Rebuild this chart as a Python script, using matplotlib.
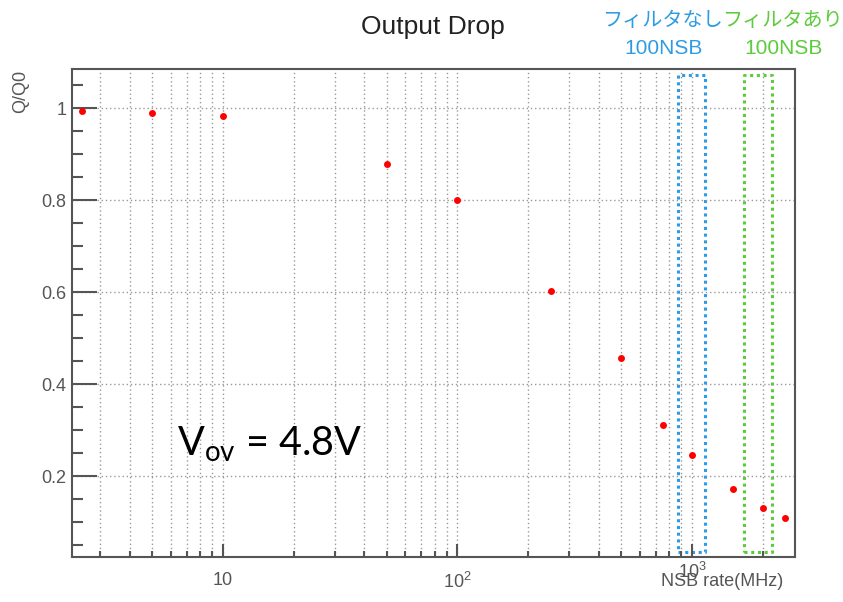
import numpy as np
import matplotlib
matplotlib.use('Agg')
import matplotlib.pyplot as plt
from matplotlib.patches import Rectangle
from matplotlib.ticker import FixedLocator, MultipleLocator, LogLocator, NullFormatter

#%% Data
nsb_rate = [2.5, 5, 10, 50, 100, 250, 500, 750, 1000, 1500, 2000, 2500]
q_ratio  = [0.994, 0.990, 0.983, 0.878, 0.800, 0.602, 0.457, 0.311, 0.246, 0.172, 0.130, 0.109]

x_ticks       = [10, 100, 1000]
x_tick_labels = ['10', r'$10^2$', '']   # 10^3 is drawn a bit higher, as in the reference
y_ticks       = [0.2, 0.4, 0.6, 0.8, 1.0]
y_tick_labels = ['0.2', '0.4', '0.6', '0.8', '1']

# dotted boxes: (x from, x to, y from, y to)
box_nofilter = (871, 1135, 0.035, 1.072)
box_filter   = (1667, 2193, 0.035, 1.072)

#%% Style
plt.rcParams['font.family'] = ['Liberation Sans', 'DejaVu Sans']
plt.rcParams['mathtext.fontset'] = 'custom'
plt.rcParams['mathtext.rm'] = 'Liberation Sans'
plt.rcParams['mathtext.sf'] = 'Lato'

axis_grey = '#555555'
blue  = '#2f9be3'
green = '#5ccb3c'

fig = plt.figure(figsize=(8.43, 6.02), dpi=100)
ax = fig.add_axes([0.0854, 0.0748, 0.943 - 0.0854, 0.8854 - 0.0748])

ax.plot(nsb_rate, q_ratio, 'o', color='red', markersize=5, markeredgewidth=0)

ax.set_xscale('log')
ax.set_xlim(2.27, 2750)
ax.set_ylim(0.024, 1.085)

ax.xaxis.set_major_locator(FixedLocator(x_ticks))
ax.set_xticklabels(x_tick_labels)
ax.xaxis.set_minor_locator(LogLocator(base=10, subs=np.arange(2, 10)))
ax.xaxis.set_minor_formatter(NullFormatter())
ax.set_yticks(y_ticks)
ax.set_yticklabels(y_tick_labels)
ax.yaxis.set_minor_locator(MultipleLocator(0.05))

ax.grid(True, which='major', axis='both', linestyle=(0, (1, 2)), color='#999999', linewidth=1)
ax.grid(True, which='minor', axis='x', linestyle=(0, (1, 2)), color='#999999', linewidth=1)

ax.tick_params(axis='both', which='both', direction='in', color=axis_grey,
               labelcolor=axis_grey, labelsize=13, width=1.5)
ax.tick_params(axis='y', which='major', length=18, pad=4)
ax.tick_params(axis='y', which='minor', length=8)
ax.tick_params(axis='x', which='major', length=9.5, pad=11)
ax.tick_params(axis='x', which='minor', length=4.5)
ax.tick_params(top=False, right=False)

for side in ax.spines.values():
    side.set_color(axis_grey)
    side.set_linewidth(1.5)

# 10^3 label, raised like in the original
ax.text(x_ticks[2], -0.043, r'$10^3$', transform=ax.get_xaxis_transform(),
        ha='center', va='baseline', fontsize=13, color=axis_grey)

#### Dotted boxes
for (x0, x1, y0, y1), c in [(box_nofilter, blue), (box_filter, green)]:
    ax.add_patch(Rectangle((x0, y0), x1 - x0, y1 - y0, fill=False, edgecolor=c,
                           linestyle=(0, (1, 1.2)), linewidth=2.2, joinstyle='round'))

#### Texts
fig.text(0.5136, 0.955, 'Output Drop', ha='center', va='center', fontsize=19, color='#222222')
fig.text(21 / 843, 1 - 70 / 602, 'Q/Q0', rotation=90, ha='center', va='top', fontsize=13, color=axis_grey)
fig.text(783 / 843, 1 - 582 / 602, 'NSB rate(MHz)', ha='right', va='center', fontsize=13, color=axis_grey)

jp = ['Noto Sans CJK JP', 'DejaVu Sans']
fig.text(662 / 843, 1 - 20 / 602, 'フィルタなし', ha='center', va='center', fontsize=14.5, color=blue, family=jp)
fig.text(782 / 843, 1 - 20 / 602, 'フィルタあり', ha='center', va='center', fontsize=14.5, color=green, family=jp)
fig.text(664 / 843, 1 - 48 / 602, '100NSB', ha='center', va='center', fontsize=15, color=blue, family=['Liberation Sans'])
fig.text(784 / 843, 1 - 48 / 602, '100NSB', ha='center', va='center', fontsize=15, color=green, family=['Liberation Sans'])

fig.text(177 / 843, 1 - 455 / 602, r'$\mathsf{V}_{\mathsf{ov}}$ = 4.8V', ha='left', va='baseline',
         fontsize=28.5, color='black', family=['Lato'])

fig.savefig('out.png', dpi=100)
